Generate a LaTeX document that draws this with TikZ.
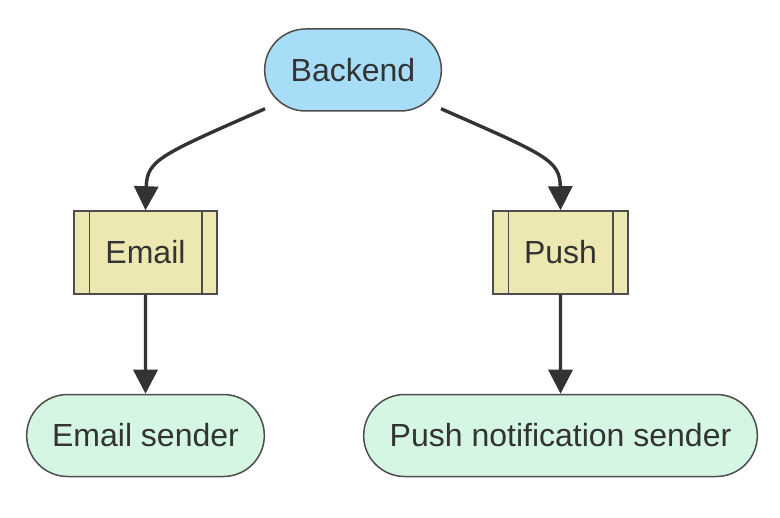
\documentclass[tikz,border=0pt]{standalone}
\usepackage{fontspec}
\setmainfont{Liberation Sans}
\usetikzlibrary{shapes.misc,arrows.meta}
\definecolor{backfill}{HTML}{A8DDF8}
\definecolor{chanfill}{HTML}{EDE8B2}
\definecolor{sendfill}{HTML}{D5F6E2}
\definecolor{edgegray}{HTML}{333333}
\definecolor{linegray}{HTML}{4D4D4D}

\begin{document}
\begin{tikzpicture}
[x=0.5pt, y=-0.5pt,
every node/.style={draw=linegray, line width=0.75pt, text=edgegray, font=\fontsize{16}{19}\selectfont},
term/.style={rounded rectangle, minimum height=41pt},
sub/.style={rectangle, fill=chanfill, minimum height=41.5pt},
flow/.style={-{Triangle[length=12pt, width=12pt]}, line width=1.7pt, draw=edgegray}]

\useasboundingbox (0,0) rectangle (780,518);

\node[term, fill=backfill, minimum width=95pt] (backend) at (353,70) {Backend};
\node[sub, minimum width=71.5pt] (email) at (145.5,252.5) {Email};
\node[sub, minimum width=67.5pt] (push) at (560.5,252.5) {Push};
\node[term, fill=sendfill, minimum width=125.5pt] (emailsender) at (145.5,435.5) {Email sender};
\node[term, fill=sendfill, minimum width=203.5pt] (pushsender) at (560.5,435.5) {Push notification sender};

% side bars of the subroutine boxes
\foreach \n in {email, push}{
  \draw[linegray, line width=0.75pt] ([xshift=8pt]\n.north west) -- ([xshift=8pt]\n.south west);
  \draw[linegray, line width=0.75pt] ([xshift=-8pt]\n.north east) -- ([xshift=-8pt]\n.south east);
}

\draw[flow] ([shift={(-88,-3)}]backend.south) .. controls (160,155) and (147,160) .. (email.north);
\draw[flow] ([shift={(88,-3)}]backend.south) .. controls (546,155) and (560,160) .. (push.north);
\draw[flow] (email) -- (emailsender);
\draw[flow] (push) -- (pushsender);
\end{tikzpicture}
\end{document}
